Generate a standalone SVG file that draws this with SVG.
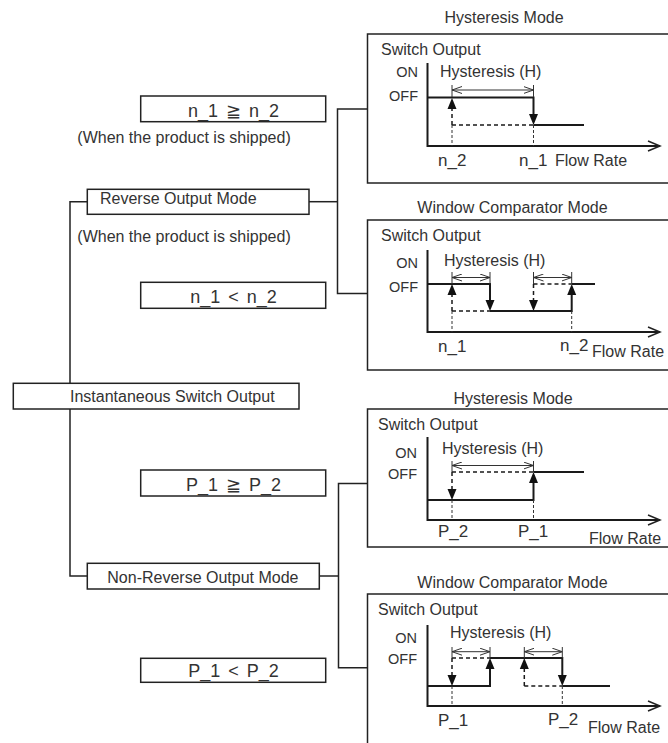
<svg xmlns="http://www.w3.org/2000/svg" width="668" height="743" viewBox="0 0 668 743">
<style>
text{font-family:"Liberation Sans",Arial,sans-serif;fill:#333;font-size:16px}
.big{font-size:18px;word-spacing:3px}
.lbl{font-size:17px}
.oo{font-size:14.5px;text-anchor:end}
.box{fill:#fff;stroke:#222;stroke-width:1.5}
.ln{fill:none;stroke:#222;stroke-width:1.5}
.ax{fill:none;stroke:#1a1a1a;stroke-width:2}
.st{fill:none;stroke:#1a1a1a;stroke-width:2}
.da{fill:none;stroke:#1a1a1a;stroke-width:1.5;stroke-dasharray:4 3}
.td{fill:none;stroke:#333;stroke-width:1;stroke-dasharray:3 2}
.tk{fill:none;stroke:#333;stroke-width:1}
.dim{fill:none;stroke:#333;stroke-width:1;marker-start:url(#oa);marker-end:url(#oa)}
.m{text-anchor:middle}
</style>
<defs>
<marker id="oa" viewBox="0 0 10 8" refX="10" refY="4" markerWidth="10" markerHeight="8" markerUnits="userSpaceOnUse" orient="auto-start-reverse">
<path d="M0,0.5 L10,4 L0,7.5" fill="none" stroke="#333" stroke-width="1"/>
</marker>
<path id="au" d="M0,0 L-4.5,11 L4.5,11 Z" fill="#111"/>
<path id="ad" d="M0,0 L-4.5,-11 L4.5,-11 Z" fill="#111"/>
</defs>

<g id="connectors">
<polyline class="ln" points="87.3,201.7 70,201.7 70,383.3"/>
<polyline class="ln" points="70,409 70,576 87.3,576"/>
<line class="ln" x1="309" y1="201.7" x2="337.5" y2="201.7"/>
<polyline class="ln" points="367.5,109 337.5,109 337.5,293.5 367.5,293.5"/>
<line class="ln" x1="319.3" y1="576" x2="338.5" y2="576"/>
<polyline class="ln" points="367.5,483.5 338.5,483.5 338.5,667.7 367.5,667.7"/>
</g>

<g id="instantaneous">
<rect class="box" x="13.3" y="383.3" width="285.7" height="25.7"/>
<text x="70" y="401.5">Instantaneous Switch Output</text>
</g>
<g id="reverse">
<rect class="box" x="87.3" y="189.3" width="221.7" height="25"/>
<text x="100" y="204">Reverse Output Mode</text>
</g>
<g id="nonreverse">
<rect class="box" x="87.3" y="563.3" width="232" height="25.7"/>
<text x="107.3" y="583.3">Non-Reverse Output Mode</text>
</g>
<g id="cond-n-ge">
<rect class="box" x="140.7" y="96" width="185" height="25.7"/>
<text class="big m" x="233.5" y="116.5">n_1 ≧ n_2</text>
</g>
<text x="77.3" y="143.3">(When the product is shipped)</text>
<text x="77.3" y="242.3">(When the product is shipped)</text>
<g id="cond-n-lt">
<rect class="box" x="140.7" y="282.3" width="185" height="26"/>
<text class="big m" x="233.5" y="302.7">n_1 &lt; n_2</text>
</g>
<g id="cond-p-ge">
<rect class="box" x="140.7" y="470" width="185" height="26"/>
<text class="big m" x="233.5" y="490.7">P_1 ≧ P_2</text>
</g>
<g id="cond-p-lt">
<rect class="box" x="140.7" y="658.3" width="185" height="24"/>
<text class="big m" x="233.5" y="676.7">P_1 &lt; P_2</text>
</g>

<!-- Panel 1 -->
<g id="panel-rev-hys">
<text class="m" x="504" y="23">Hysteresis Mode</text>
<rect class="box" x="367.5" y="34" width="310" height="149"/>
<text x="381" y="55">Switch Output</text>
<polyline class="ax" points="427.5,63 427.5,146 660,146"/>
<polyline class="ln" points="648,141 660,146 648,151"/>
<text class="oo" x="418" y="77">ON</text>
<text class="oo" x="418" y="101">OFF</text>
<text x="440" y="77">Hysteresis (H)</text>
<polyline class="st" points="427.5,97.5 533.5,97.5 533.5,115"/>
<use href="#ad" x="533.5" y="125"/>
<line class="st" x1="533.5" y1="125" x2="584" y2="125"/>
<line class="da" x1="452" y1="125" x2="533.5" y2="125"/>
<line class="da" x1="452" y1="125" x2="452" y2="108"/>
<use href="#au" x="452" y="98"/>
<line class="td" x1="452" y1="125" x2="452" y2="146"/>
<line class="td" x1="533.5" y1="125" x2="533.5" y2="146"/>
<line class="tk" x1="452" y1="85" x2="452" y2="97"/>
<line class="tk" x1="533.5" y1="85" x2="533.5" y2="97"/>
<line class="dim" x1="452" y1="90" x2="533.5" y2="90"/>
<text class="lbl" x="438" y="166">n_2</text>
<text class="lbl" x="519" y="166">n_1</text>
<text x="555" y="166">Flow Rate</text>
</g>

<!-- Panel 2 -->
<g id="panel-rev-win">
<text class="m" x="512.5" y="213">Window Comparator Mode</text>
<rect class="box" x="367.5" y="220" width="310" height="150"/>
<text x="381" y="241">Switch Output</text>
<polyline class="ax" points="427.5,250 427.5,332 660,332"/>
<polyline class="ln" points="648,327 660,332 648,337"/>
<text class="oo" x="418" y="268">ON</text>
<text class="oo" x="418" y="292">OFF</text>
<text x="444" y="266">Hysteresis (H)</text>
<polyline class="st" points="427.5,284 490,284 490,300"/>
<use href="#ad" x="490" y="311"/>
<polyline class="st" points="490,311 571.7,311 571.7,295"/>
<use href="#au" x="571.7" y="284"/>
<line class="st" x1="571.7" y1="284" x2="595" y2="284"/>
<line class="da" x1="452" y1="311" x2="452" y2="295"/>
<use href="#au" x="452" y="284"/>
<line class="da" x1="452" y1="311" x2="490" y2="311"/>
<line class="da" x1="533.5" y1="284" x2="533.5" y2="300"/>
<use href="#ad" x="533.5" y="311"/>
<line class="da" x1="533.5" y1="284" x2="571.7" y2="284"/>
<line class="tk" x1="452" y1="272" x2="452" y2="284"/>
<line class="tk" x1="490" y1="272" x2="490" y2="284"/>
<line class="tk" x1="533.5" y1="272" x2="533.5" y2="284"/>
<line class="tk" x1="571.7" y1="272" x2="571.7" y2="284"/>
<line class="dim" x1="452" y1="277.5" x2="490" y2="277.5"/>
<line class="dim" x1="533.5" y1="277.5" x2="571.7" y2="277.5"/>
<line class="td" x1="452" y1="311" x2="452" y2="332"/>
<line class="td" x1="571.7" y1="311" x2="571.7" y2="332"/>
<text class="lbl" x="438" y="352">n_1</text>
<text class="lbl" x="560" y="351">n_2</text>
<text x="592" y="357">Flow Rate</text>
</g>

<!-- Panel 3 -->
<g id="panel-nonrev-hys">
<text class="m" x="513" y="404">Hysteresis Mode</text>
<rect class="box" x="367.5" y="409" width="310" height="138"/>
<text x="378" y="430">Switch Output</text>
<polyline class="ax" points="427.5,437 427.5,520 660,520"/>
<polyline class="ln" points="648,515 660,520 648,525"/>
<text class="oo" x="417" y="458">ON</text>
<text class="oo" x="417" y="479">OFF</text>
<text x="442" y="454">Hysteresis (H)</text>
<polyline class="st" points="427.5,500 533.5,500 533.5,483"/>
<use href="#au" x="533.5" y="472"/>
<line class="st" x1="533.5" y1="472" x2="584" y2="472"/>
<line class="da" x1="452" y1="472" x2="533.5" y2="472"/>
<line class="da" x1="452" y1="472" x2="452" y2="489"/>
<use href="#ad" x="452" y="500"/>
<line class="tk" x1="452" y1="461" x2="452" y2="472"/>
<line class="tk" x1="533.5" y1="461" x2="533.5" y2="472"/>
<line class="dim" x1="452" y1="465.5" x2="533.5" y2="465.5"/>
<line class="td" x1="452" y1="500" x2="452" y2="520"/>
<line class="td" x1="533.5" y1="500" x2="533.5" y2="520"/>
<text class="lbl" x="438" y="537">P_2</text>
<text class="lbl" x="518" y="537">P_1</text>
<text x="589" y="544">Flow Rate</text>
</g>

<!-- Panel 4 -->
<g id="panel-nonrev-win">
<text class="m" x="512.5" y="588">Window Comparator Mode</text>
<rect class="box" x="367.5" y="594" width="310" height="170"/>
<text x="378" y="615">Switch Output</text>
<polyline class="ax" points="427.5,625 427.5,706 660,706"/>
<polyline class="ln" points="648,701 660,706 648,711"/>
<text class="oo" x="417" y="643">ON</text>
<text class="oo" x="417" y="664">OFF</text>
<text x="450" y="638">Hysteresis (H)</text>
<polyline class="st" points="427.5,686 490,686 490,669"/>
<use href="#au" x="490" y="658"/>
<polyline class="st" points="490,658 562.3,658 562.3,675"/>
<use href="#ad" x="562.3" y="686"/>
<line class="st" x1="562.3" y1="686" x2="610" y2="686"/>
<line class="da" x1="452" y1="658" x2="452" y2="675"/>
<use href="#ad" x="452" y="686"/>
<line class="da" x1="452" y1="658" x2="490" y2="658"/>
<line class="da" x1="524.3" y1="686" x2="524.3" y2="669"/>
<use href="#au" x="524.3" y="658"/>
<line class="da" x1="524.3" y1="686" x2="562.3" y2="686"/>
<line class="tk" x1="452" y1="647" x2="452" y2="658"/>
<line class="tk" x1="490" y1="647" x2="490" y2="658"/>
<line class="tk" x1="524.3" y1="647" x2="524.3" y2="658"/>
<line class="tk" x1="562.3" y1="647" x2="562.3" y2="658"/>
<line class="dim" x1="452" y1="651.7" x2="490" y2="651.7"/>
<line class="dim" x1="524.3" y1="651.7" x2="562.3" y2="651.7"/>
<line class="td" x1="452" y1="686" x2="452" y2="706"/>
<line class="td" x1="562.3" y1="686" x2="562.3" y2="706"/>
<text class="lbl" x="438" y="726">P_1</text>
<text class="lbl" x="548" y="725">P_2</text>
<text x="588" y="733">Flow Rate</text>
</g>
</svg>
